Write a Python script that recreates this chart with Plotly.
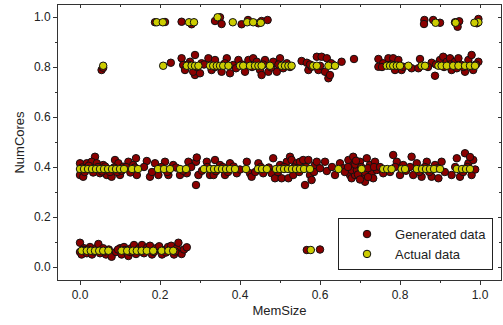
import plotly.graph_objects as go

# ---- Actual data (yellow) ----
act_x = [
    # bottom band
    0.004, 0.017, 0.027, 0.0375, 0.048, 0.058, 0.071, 0.104, 0.118, 0.132, 0.142, 0.154, 0.167, 0.183, 0.204, 0.221, 0.233, 0.577,
    # middle band
    0.0, 0.01, 0.02, 0.03, 0.04, 0.05, 0.06, 0.07, 0.08, 0.09, 0.10, 0.11, 0.13, 0.145, 0.195, 0.21, 0.225, 0.25, 0.265,
    0.31, 0.325, 0.335, 0.345, 0.355, 0.365, 0.375, 0.3875, 0.415, 0.445, 0.455, 0.467, 0.49, 0.5, 0.51, 0.52, 0.53,
    0.54, 0.55, 0.56, 0.575, 0.646, 0.704, 0.758, 0.768, 0.779, 0.804, 0.8125, 0.842, 0.855, 0.865, 0.875, 0.885, 0.9,
    0.942, 0.955, 0.965, 0.975, 0.983,
    # upper band
    0.058, 0.208, 0.267, 0.279, 0.2875, 0.296, 0.325, 0.333, 0.342, 0.35, 0.358, 0.371, 0.4, 0.408, 0.425, 0.4375, 0.446,
    0.454, 0.475, 0.504, 0.5125, 0.521, 0.529, 0.583, 0.592, 0.621, 0.6375, 0.767, 0.775, 0.783, 0.792, 0.8, 0.821,
    0.854, 0.8625, 0.896, 0.904, 0.917, 0.933, 0.946, 0.9625, 0.975, 0.9875, 0.996,
    # top band
    0.192, 0.207, 0.2725, 0.285, 0.344, 0.382, 0.418, 0.433, 0.452, 0.889, 0.939, 0.986, 0.993,
]
act_y = (
    [0.065] * 17 + [0.068]
    + [0.392] * 57
    + [0.805] * 44
    + [0.979, 0.979, 0.979, 0.979, 0.979, 0.999, 0.979, 0.979, 0.979, 0.977, 0.977, 0.977, 0.977]
)

# ---- Generated data (dark red) ----
gen_pts = [
    # bottom band
    (0.0, 0.097), (0.0, 0.06), (0.004, 0.05), (0.01, 0.075), (0.017, 0.055), (0.025, 0.08), (0.03, 0.05),
    (0.04, 0.075), (0.046, 0.092), (0.05, 0.055), (0.058, 0.075), (0.065, 0.05), (0.072, 0.07), (0.079, 0.041),
    (0.09, 0.06), (0.1, 0.075), (0.104, 0.05), (0.11, 0.08), (0.117, 0.058), (0.121, 0.044), (0.128, 0.075),
    (0.135, 0.088), (0.14, 0.052), (0.148, 0.075), (0.155, 0.088), (0.16, 0.055), (0.168, 0.078), (0.175, 0.085),
    (0.18, 0.05), (0.19, 0.075), (0.198, 0.083), (0.205, 0.05), (0.212, 0.068), (0.22, 0.08), (0.228, 0.085),
    (0.235, 0.05), (0.242, 0.075), (0.246, 0.097), (0.254, 0.052), (0.26, 0.07), (0.267, 0.079),
    (0.008, 0.068), (0.035, 0.062), (0.062, 0.062), (0.095, 0.07), (0.125, 0.06), (0.152, 0.062), (0.185, 0.06),
    (0.215, 0.058), (0.238, 0.062), (0.02, 0.07), (0.112, 0.068),
    (0.567, 0.068), (0.6, 0.07),
    # middle band
    (0.0, 0.415), (0.0, 0.368), (0.008, 0.361), (0.017, 0.415), (0.0375, 0.441), (0.029, 0.421), (0.042, 0.415),
    (0.05, 0.375), (0.058, 0.408), (0.067, 0.368), (0.079, 0.361), (0.0875, 0.428), (0.096, 0.415), (0.1, 0.368),
    (0.108, 0.401), (0.121, 0.421), (0.133, 0.408), (0.14, 0.435), (0.142, 0.368), (0.167, 0.424), (0.175, 0.361),
    (0.1875, 0.415), (0.196, 0.368), (0.2125, 0.421), (0.221, 0.368), (0.233, 0.408), (0.25, 0.368), (0.271, 0.421),
    (0.267, 0.375), (0.29, 0.421), (0.292, 0.438), (0.29, 0.328), (0.296, 0.368), (0.317, 0.421), (0.325, 0.368),
    (0.3375, 0.428), (0.334, 0.368), (0.35, 0.408), (0.3625, 0.368), (0.375, 0.415), (0.392, 0.375), (0.417, 0.421),
    (0.425, 0.375), (0.429, 0.361), (0.446, 0.415), (0.458, 0.375), (0.483, 0.435), (0.479, 0.375), (0.4875, 0.355),
    (0.5, 0.408), (0.504, 0.355), (0.517, 0.421), (0.525, 0.441), (0.529, 0.428), (0.521, 0.355), (0.533, 0.368),
    (0.542, 0.415), (0.55, 0.421), (0.558, 0.428), (0.5625, 0.328), (0.571, 0.428), (0.575, 0.368), (0.579, 0.348),
    (0.5875, 0.408), (0.592, 0.421), (0.6125, 0.421), (0.617, 0.384), (0.6375, 0.368), (0.65, 0.415), (0.658, 0.395),
    (0.671, 0.428), (0.675, 0.368), (0.683, 0.408), (0.679, 0.355), (0.683, 0.441), (0.6875, 0.368), (0.7, 0.421),
    (0.708, 0.361), (0.7125, 0.341), (0.717, 0.435), (0.725, 0.408), (0.729, 0.375), (0.7375, 0.421), (0.733, 0.355),
    (0.742, 0.388), (0.679, 0.388), (0.692, 0.388), (0.758, 0.375), (0.783, 0.448), (0.792, 0.421), (0.8, 0.368),
    (0.808, 0.408), (0.829, 0.441), (0.833, 0.368), (0.842, 0.415), (0.854, 0.361), (0.867, 0.421), (0.879, 0.361),
    (0.8875, 0.408), (0.896, 0.355), (0.904, 0.421), (0.929, 0.368), (0.942, 0.435), (0.95, 0.361), (0.9625, 0.455),
    (0.971, 0.415), (0.979, 0.368), (0.983, 0.428),
    # extra middle-band fill
    (0.005, 0.398), (0.012, 0.38), (0.022, 0.405), (0.033, 0.378), (0.045, 0.4), (0.055, 0.382), (0.063, 0.402),
    (0.075, 0.38), (0.085, 0.398), (0.093, 0.38), (0.104, 0.385), (0.115, 0.4), (0.126, 0.378), (0.137, 0.398),
    (0.16, 0.4), (0.18, 0.38), (0.203, 0.4), (0.218, 0.38), (0.24, 0.398), (0.258, 0.385), (0.278, 0.4),
    (0.305, 0.385), (0.318, 0.4), (0.34, 0.383), (0.357, 0.4), (0.37, 0.38), (0.384, 0.402), (0.4, 0.39),
    (0.438, 0.38), (0.452, 0.4), (0.472, 0.398), (0.495, 0.38), (0.51, 0.4), (0.535, 0.398), (0.548, 0.38),
    (0.565, 0.4), (0.585, 0.38), (0.6, 0.395), (0.63, 0.4), (0.662, 0.38), (0.67, 0.4), (0.688, 0.41),
    (0.695, 0.37), (0.703, 0.4), (0.712, 0.38), (0.72, 0.395), (0.735, 0.4), (0.7, 0.35), (0.69, 0.425),
    (0.72, 0.36), (0.75, 0.4), (0.775, 0.38), (0.788, 0.4), (0.815, 0.385), (0.825, 0.4), (0.848, 0.38),
    (0.862, 0.4), (0.873, 0.38), (0.893, 0.395), (0.912, 0.38), (0.938, 0.4), (0.958, 0.38), (0.968, 0.4),
    (0.988, 0.39), (0.975, 0.44),
    # upper band
    (0.054, 0.788), (0.058, 0.797), (0.227, 0.817), (0.2875, 0.768),
    (0.254, 0.835), (0.258, 0.808), (0.2625, 0.788), (0.275, 0.821), (0.2875, 0.848), (0.283, 0.781), (0.304, 0.815),
    (0.3, 0.775), (0.321, 0.835), (0.329, 0.788), (0.3375, 0.828), (0.354, 0.781), (0.367, 0.835), (0.375, 0.775),
    (0.383, 0.808), (0.396, 0.828), (0.4125, 0.781), (0.421, 0.828), (0.433, 0.835), (0.442, 0.821), (0.45, 0.788),
    (0.454, 0.768), (0.4625, 0.828), (0.471, 0.781), (0.483, 0.821), (0.492, 0.781), (0.5, 0.835), (0.508, 0.795),
    (0.517, 0.815), (0.554, 0.824), (0.567, 0.817), (0.571, 0.788), (0.579, 0.801), (0.592, 0.841), (0.596, 0.788),
    (0.604, 0.841), (0.617, 0.835), (0.6125, 0.781), (0.621, 0.755), (0.633, 0.808), (0.625, 0.768),
    (0.654, 0.821), (0.685, 0.832), (0.746, 0.832), (0.746, 0.801), (0.758, 0.815), (0.771, 0.835), (0.783, 0.835),
    (0.796, 0.828), (0.804, 0.788), (0.7875, 0.788), (0.808, 0.801), (0.829, 0.795), (0.846, 0.795), (0.85, 0.832),
    (0.879, 0.817), (0.8875, 0.765), (0.9, 0.828), (0.908, 0.841), (0.917, 0.821), (0.925, 0.835), (0.929, 0.788),
    (0.9375, 0.821), (0.942, 0.795), (0.946, 0.835), (0.954, 0.808), (0.9625, 0.781), (0.971, 0.828), (0.979, 0.848),
    (0.983, 0.788), (0.996, 0.821),
    # extra upper-band fill
    (0.27, 0.81), (0.292, 0.8), (0.31, 0.81), (0.338, 0.8), (0.362, 0.815), (0.39, 0.795), (0.405, 0.81),
    (0.43, 0.8), (0.458, 0.81), (0.478, 0.798), (0.496, 0.81), (0.525, 0.8), (0.575, 0.81), (0.6, 0.805),
    (0.628, 0.815), (0.755, 0.8), (0.778, 0.81), (0.795, 0.805), (0.87, 0.8), (0.89, 0.81), (0.91, 0.8),
    (0.925, 0.81), (0.958, 0.8), (0.99, 0.81),
    # top band
    (0.1875, 0.979), (0.2125, 0.98), (0.254, 0.981), (0.279, 0.971), (0.3375, 0.984), (0.35, 0.999), (0.354, 0.972),
    (0.404, 0.971), (0.42, 0.988), (0.446, 0.975), (0.454, 0.984), (0.469, 0.988), (0.861, 0.988), (0.86, 0.972),
    (0.883, 0.988), (0.9, 0.977), (0.9375, 0.979), (0.948, 0.983), (0.944, 0.961), (0.996, 0.992), (0.992, 0.975),
]
gen_x = [p[0] for p in gen_pts]
gen_y = [p[1] for p in gen_pts]

tick_vals = [0.0, 0.2, 0.4, 0.6, 0.8, 1.0]
tick_text = ["0.0", "0.2", "0.4", "0.6", "0.8", "1.0"]

FONT = "Liberation Sans, Arial, sans-serif"
AX = "#333333"

fig = go.Figure()
fig.add_trace(go.Scatter(
    x=gen_x, y=gen_y, mode="markers", name="Generated data",
    marker=dict(size=7.5, color="#8b0000", line=dict(color="#111111", width=1)),
))
fig.add_trace(go.Scatter(
    x=act_x, y=act_y, mode="markers", name="Actual data",
    marker=dict(size=7.5, color="#cccc00", line=dict(color="#111111", width=1)),
))

xr = [-0.055, 1.0525]
yr = [-0.052, 1.048]

fig.update_layout(
    width=503, height=325,
    margin=dict(l=58, r=2, t=5, b=45),
    paper_bgcolor="white", plot_bgcolor="white",
    font=dict(family=FONT, size=12, color="#222222"),
    xaxis=dict(
        range=xr, tickvals=tick_vals, ticktext=tick_text, showgrid=False, zeroline=False,
        showline=True, linecolor=AX, linewidth=1, ticks="outside", ticklen=4, tickcolor=AX,
        minor=dict(ticks="outside", ticklen=2, tickcolor=AX, dtick=0.1, tick0=0),
        title=dict(text="MemSize", font=dict(size=13), standoff=4),
    ),
    yaxis=dict(
        range=yr, tickvals=tick_vals, ticktext=tick_text, showgrid=False, zeroline=False,
        showline=True, linecolor=AX, linewidth=1, ticks="outside", ticklen=4, tickcolor=AX,
        minor=dict(ticks="outside", ticklen=2, tickcolor=AX, dtick=0.1, tick0=0),
        title=dict(text="NumCores", font=dict(size=13), standoff=6),
    ),
    xaxis2=dict(
        range=xr, overlaying="x", side="top", tickvals=tick_vals, showticklabels=False,
        showgrid=False, zeroline=False, showline=True, linecolor=AX, linewidth=1,
        ticks="inside", ticklen=3, tickcolor=AX,
        minor=dict(ticks="inside", ticklen=2, tickcolor=AX, dtick=0.1, tick0=0),
    ),
    yaxis2=dict(
        range=yr, overlaying="y", side="right", tickvals=tick_vals, showticklabels=False,
        showgrid=False, zeroline=False, showline=True, linecolor=AX, linewidth=1,
        ticks="inside", ticklen=3, tickcolor=AX,
        minor=dict(ticks="inside", ticklen=2, tickcolor=AX, dtick=0.1, tick0=0),
    ),
    legend=dict(
        x=0.982, y=0.036, xanchor="right", yanchor="bottom",
        bgcolor="white", bordercolor="#222222", borderwidth=1,
        font=dict(size=13), itemwidth=46, tracegroupgap=0,
    ),
    showlegend=True,
)
fig.add_trace(go.Scatter(x=[None], y=[None], xaxis="x2", yaxis="y2", showlegend=False, hoverinfo="skip"))

fig.write_html("out.html")
